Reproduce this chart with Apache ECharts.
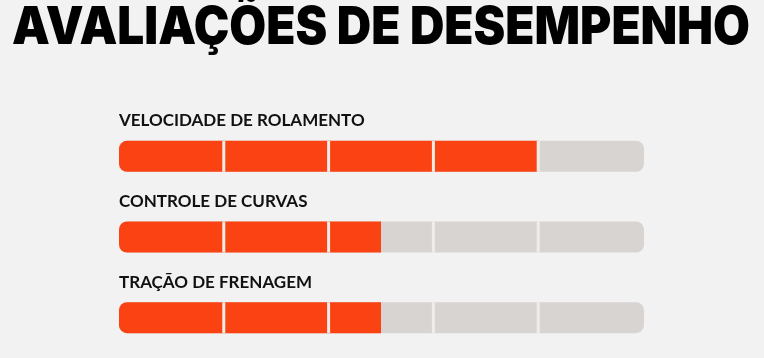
<!DOCTYPE html>
<html><head><meta charset="utf-8">
<script src="https://cdn.jsdelivr.net/npm/echarts@6/dist/echarts.min.js"></script>
<style>html,body{margin:0;padding:0;background:#f2f2f2}#c{width:764px;height:358px}</style>
</head><body><div id="c"></div>
<script>
const titleText = 'AVALIAÇÕES DE DESEMPENHO';
const categories = ['VELOCIDADE DE ROLAMENTO', 'CONTROLE DE CURVAS', 'TRAÇÃO DE FRENAGEM'];
const ratings = [4, 2.5, 2.5];
const maxRating = 5;

const chart = echarts.init(document.getElementById('c'));
const ORANGE = '#fa4212', TRACK = '#d8d4d2', GAP = '#f1ece8';
const TITLE_FONT = '900 52px Inter';
const cv = document.createElement('canvas').getContext('2d');
cv.font = TITLE_FONT;
const tw = cv.measureText(titleText).width;
const sx = 738 / tw;
chart.setOption({
  backgroundColor: '#f2f2f2',
  animation: false,
  graphic: [{
    type: 'text', x: 381, y: 28, scaleX: sx, scaleY: 1,
    style: { text: titleText, font: TITLE_FONT, fill: '#000', align: 'center', verticalAlign: 'middle' }
  }],
  grid: { left: 119, right: 121, top: 116, bottom: 0 },
  xAxis: { type: 'value', min: 0, max: maxRating, interval: 1, show: false },
  yAxis: { type: 'category', data: categories, inverse: true, show: false },
  series: [{
    type: 'custom',
    data: ratings.map((v, i) => [v, i]),
    encode: { x: 0, y: 1 },
    renderItem: function (params, api) {
      const v = api.value(0), row = api.value(1);
      const p0 = api.coord([0, row]);
      const pMax = api.coord([maxRating, row]);
      const pV = api.coord([v, row]);
      const h = 31, r = 8;
      const y = p0[1] - h / 2;
      const children = [];
      children.push({ type: 'rect', shape: { x: p0[0], y: y, width: pMax[0] - p0[0] + 1, height: h, r: r }, style: { fill: TRACK } });
      const full = v >= maxRating;
      children.push({ type: 'rect', shape: { x: p0[0], y: y, width: pV[0] - p0[0], height: h, r: full ? r : [r, 0, 0, r] }, style: { fill: ORANGE } });
      for (let k = 1; k < maxRating; k++) {
        const pk = api.coord([k, row]);
        children.push({ type: 'rect', shape: { x: pk[0] - 1.5, y: y, width: 3, height: h }, style: { fill: GAP } });
      }
      children.push({ type: 'text', x: p0[0], y: p0[1] - 35.5, style: { text: categories[row], fill: '#111',
        font: '700 17px Lato', verticalAlign: 'middle', align: 'left' } });
      return { type: 'group', children: children };
    }
  }]
});
</script></body></html>
